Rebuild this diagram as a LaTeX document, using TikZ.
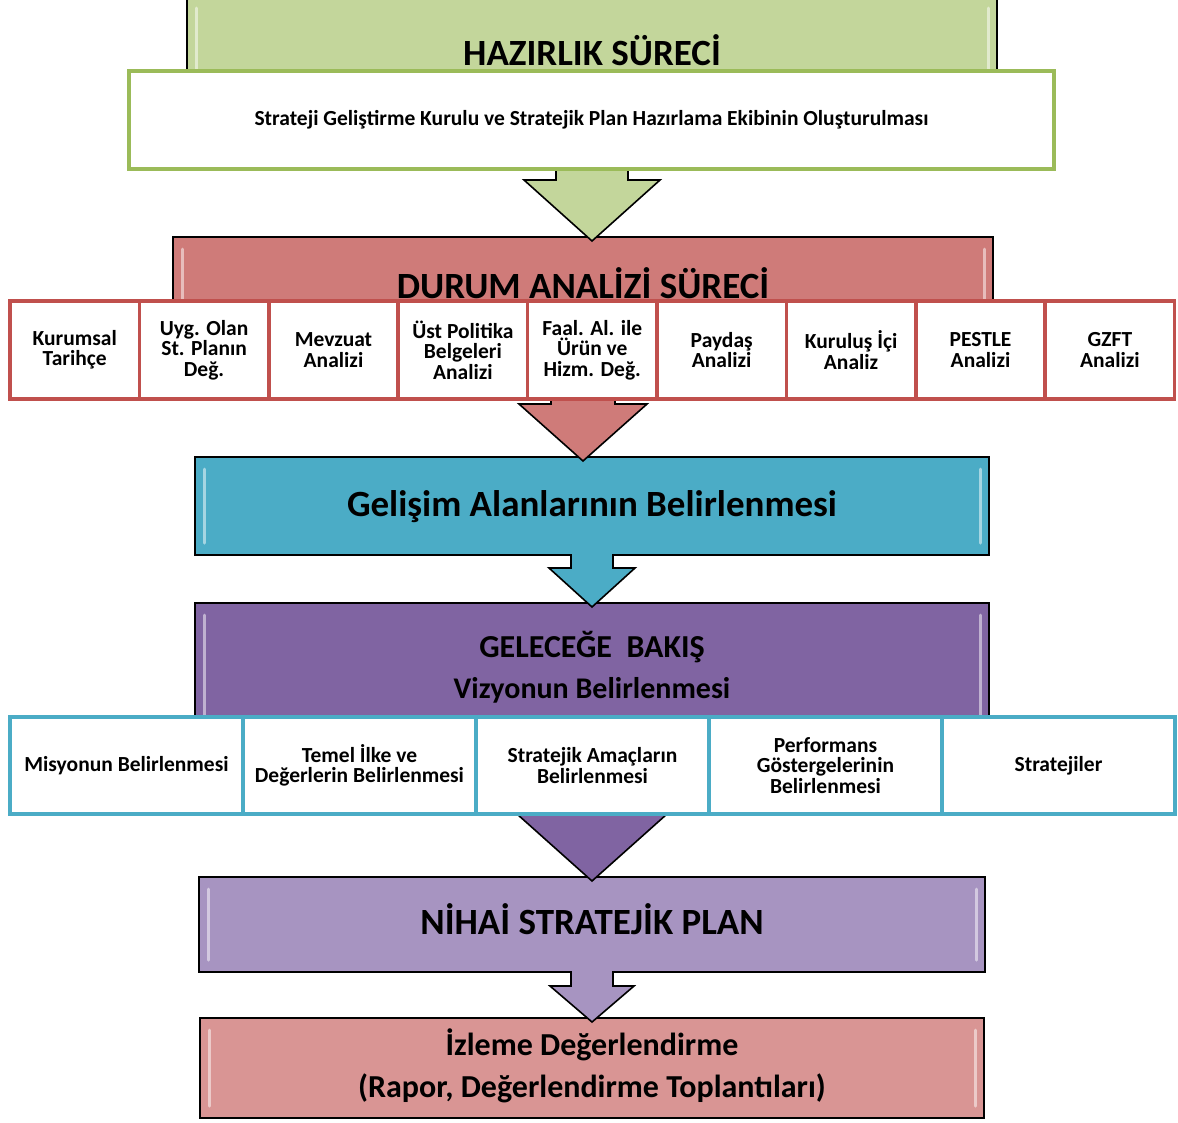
\documentclass[tikz,border=0pt]{standalone}
\usepackage{fontspec}
\setmainfont{Carlito}
\usetikzlibrary{positioning,calc}
\definecolor{hazirlik}{HTML}{C3D69B}
\definecolor{hazirlikline}{HTML}{9BBB59}
\definecolor{durum}{HTML}{CF7B79}
\definecolor{durumline}{HTML}{C0504D}
\definecolor{gelisim}{HTML}{4BACC6}
\definecolor{gelecek}{HTML}{8064A2}
\definecolor{nihai}{HTML}{A794C1}
\definecolor{izleme}{HTML}{D99594}
\tikzset{area/.style={minimum width=#1, inner sep=0pt, outer sep=0pt},
         outline/.style={draw=black, line width=1.6pt, line join=miter},
         gloss/.style={draw=white, opacity=0.5, line width=3pt, line cap=round},
         title/.style={anchor=base, inner sep=0pt, font=\bfseries\fontsize{#1}{#1}\selectfont},
         title/.default=37,
         cell/.style={draw=#1, line width=3.5pt, fill=white, align=center, inner sep=2pt,
                      font=\bfseries\fontsize{21.5}{20.5}\selectfont}
         }
\newcommand{\callout}[6]{%
  \coordinate (#1tip) at ($(#1.south |- #6.north)+(0,4)$);
  \draw[outline, fill=#2] (#1.south west) -- (#1.north west) -- (#1.north east) -- (#1.south east)
    -- ($(#1.south)+(#3,0)$) -- ($(#1tip)+(#3,-#5)$) -- ($(#1tip)+(#4,-#5)$) -- (#1tip)
    -- ($(#1tip)+(-#4,-#5)$) -- ($(#1tip)+(-#3,-#5)$) -- ($(#1.south)+(-#3,0)$) -- cycle;
  \draw[gloss] ($(#1.north west)+(9,12)$) -- ($(#1.south west)+(9,-12)$);
  \draw[gloss] ($(#1.north east)+(-9,12)$) -- ($(#1.south east)+(-9,-12)$);
}

\begin{document}
\begin{tikzpicture}[x=1pt,y=-1pt]
\useasboundingbox (0,0) rectangle (1178,1122);
\node[area=784pt, minimum height=100pt, outline, fill=izleme] (izleme) at (592,1068) {};
\draw[gloss] ($(izleme.north west)+(9,12)$) -- ($(izleme.south west)+(9,-12)$);
\draw[gloss] ($(izleme.north east)+(-9,12)$) -- ($(izleme.south east)+(-9,-12)$);
\node[title=32] (izlemet1) at (592,1055) {İzleme Değerlendirme};
\node[title=32] (izlemet2) at (592,1097) {(Rapor, Değerlendirme Toplantıları)};

\node[area=786pt, minimum height=95pt] (nihai) at (592,924.5) {};
\callout{nihai}{nihai}{21}{42}{36}{izleme}
\node[title] (nihait) at (592,934) {NİHAİ STRATEJİK PLAN};

\node[area=794pt, minimum height=187pt] (gelecek) at (592,696.5) {};
\callout{gelecek}{gelecek}{40}{75}{67}{nihai}
\node[title=32] (gelecekt1) at (592,657) {GELECEĞE\ \ BAKIŞ};
\node[title=30] (gelecekt2) at (592,698) {Vizyonun Belirlenmesi};
\foreach \t [count=\i] in {{Misyonun Belirlenmesi},{Temel İlke ve\\Değerlerin Belirlenmesi},
    {Stratejik Amaçların\\Belirlenmesi},{Performans\\Göstergelerinin\\Belirlenmesi},{Stratejiler}}
  \node[cell=gelisim, minimum width=233pt, minimum height=97pt] (g\i) at ({10+233*(\i-0.5)},765.5) {\t};

\node[area=794pt, minimum height=98pt] (gelisim) at (592,506) {};
\callout{gelisim}{gelisim}{21}{43}{39}{gelecek}
\node[title] (gelisimt) at (592,516) {Gelişim Alanlarının Belirlenmesi};

\node[area=820pt, minimum height=143pt] (durum) at (583,308.5) {};
\callout{durum}{durum}{32}{64}{57}{gelisim}
\node[title] (durumt) at (583,298) {DURUM ANALİZİ SÜRECİ};
\foreach \t [count=\i] in {{Kurumsal\\Tarihçe},{Uyg. Olan\\St. Planın\\Değ.},{Mevzuat\\Analizi},
    {Üst Politika\\Belgeleri\\Analizi},{Faal. Al. ile\\Ürün ve\\Hizm. Değ.},{Paydaş\\Analizi},
    {Kuruluş İçi\\Analiz},{PESTLE\\Analizi},{GZFT\\Analizi}}
  \node[cell=durumline, minimum width=129.4pt, minimum height=98pt] (d\i) at ({10+129.4*(\i-0.5)},350) {\t};

\node[area=810pt, minimum height=154pt] (hazirlik) at (592,73) {};
\callout{hazirlik}{hazirlik}{36}{68}{61}{durum}
\node[title] (hazirlikt) at (592,65) {HAZIRLIK SÜRECİ};
\node[draw=hazirlikline, line width=4pt, fill=white, minimum width=925pt, minimum height=98pt,
      font=\bfseries\fontsize{21.5}{22}\selectfont] (kurul) at (591.5,120)
  {Strateji Geliştirme Kurulu ve Stratejik Plan Hazırlama Ekibinin Oluşturulması};
\end{tikzpicture}
\end{document}
